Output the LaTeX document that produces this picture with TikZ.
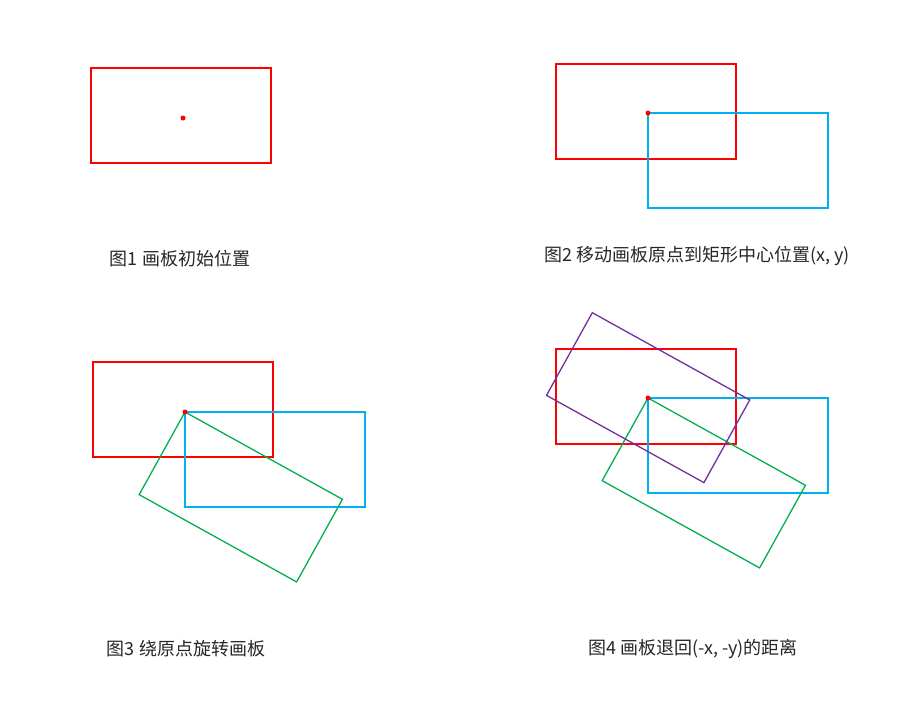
\documentclass[tikz,border=0pt]{standalone}
\usepackage{fontspec}
\newfontfamily\cjk{Noto Sans CJK SC}
\usepackage{tikz}
\usetikzlibrary{positioning}
\definecolor{boardred}{HTML}{FF0000}
\definecolor{boardblue}{HTML}{00B0F0}
\definecolor{boardgreen}{HTML}{00B050}
\definecolor{boardpurple}{HTML}{7030A0}

\begin{document}
\begin{tikzpicture}
[x=1pt, y=-1pt,
board/.style={rectangle, draw, minimum width=180pt, minimum height=94.5pt, inner sep=0pt, outer sep=0pt},
origboard/.style={board, draw=boardred, line width=2pt},
movedboard/.style={board, draw=boardblue, line width=2pt, anchor=north west},
turnedboard/.style={board, draw=boardgreen, line width=1.3pt, anchor=north west, rotate=-29},
backboard/.style={board, draw=boardpurple, line width=1.3pt, anchor=north west, rotate=-29},
origin/.style={circle, fill=boardred, inner sep=0pt, minimum size=5pt},
caption/.style={font=\cjk\fontsize{18}{21}\selectfont, text=black!85}]
    \useasboundingbox (0,0) rectangle (921,707);
    % Fig 1
    \node (b1) [origboard] at (181,115.5) {};
    \node (o1) [origin] at (183,118) {};
    \node (t1) [caption] at (180,259) {图1 画板初始位置};
    % Fig 2
    \coordinate (p2) at (648,113);
    \node (b2) [origboard] at (646,111.5) {};
    \node (m2) [movedboard] at (p2) {};
    \node (o2) [origin] at (p2) {};
    \node (t2) [caption] at (697,256) {图2 移动画板原点到矩形中心位置(x, y)};
    % Fig 3
    \coordinate (p3) at (185,412);
    \node (b3) [origboard] at (183,409.5) {};
    \node (m3) [movedboard] at (p3) {};
    \node (r3) [turnedboard] at (p3) {};
    \node (o3) [origin] at (p3) {};
    \node (t3) [caption] at (186,649) {图3 绕原点旋转画板};
    % Fig 4
    \coordinate (p4) at (648,398);
    \node (b4) [origboard] at (646,396.5) {};
    \node (m4) [movedboard] at (p4) {};
    \node (r4) [turnedboard] at (p4) {};
    \node (k4) [backboard] at (592.3,312.7) {};
    \node (o4) [origin] at (p4) {};
    \node (t4) [caption] at (693,649) {图4 画板退回(-x, -y)的距离};
\end{tikzpicture}
\end{document}
